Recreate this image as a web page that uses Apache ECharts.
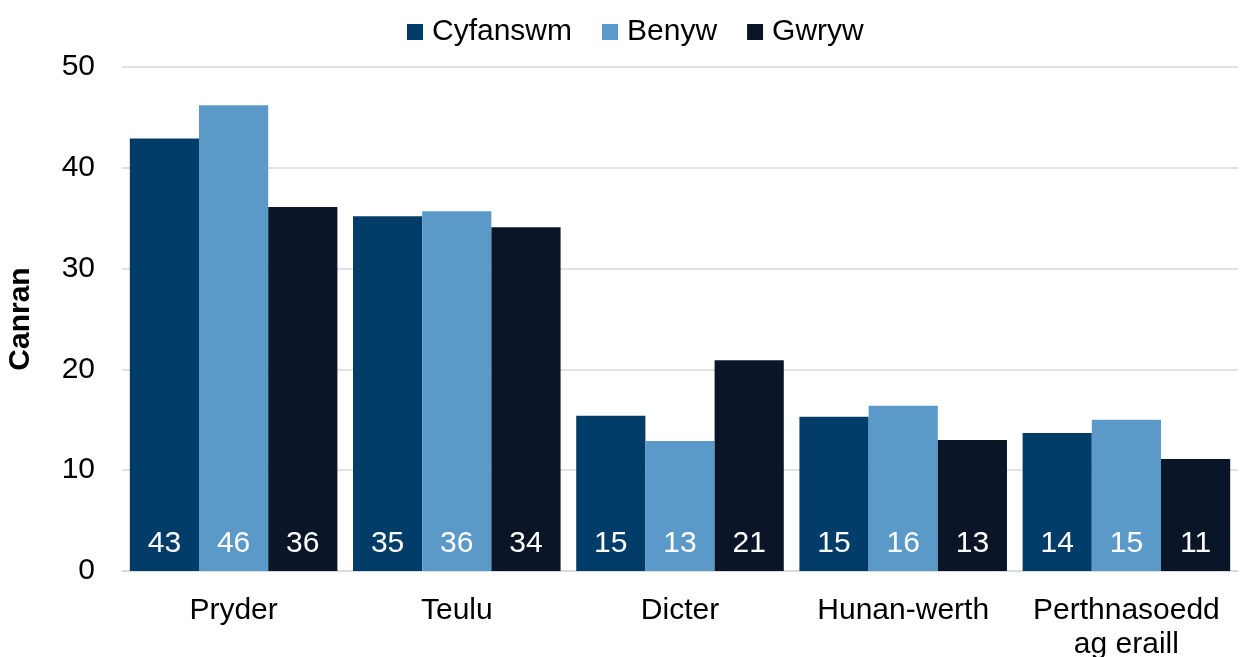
<!DOCTYPE html>
<html>
<head>
<meta charset="utf-8">
<script src="https://cdn.jsdelivr.net/npm/echarts@6/dist/echarts.min.js"></script>
<style>
  html, body { margin: 0; padding: 0; background: #fff; }
  #chart { width: 1240px; height: 657px; }
</style>
</head>
<body>
<div id="chart"></div>
<script>
// categories and series values (percent)
const categories = ['Pryder', 'Teulu', 'Dicter', 'Hunan-werth', 'Perthnasoedd\nag eraill']
const cyfanswm = [42.9, 35.2, 15.4, 15.3, 13.7]
const benyw = [46.2, 35.7, 12.9, 16.4, 15.0]
const gwryw = [36.1, 34.1, 20.9, 13.0, 11.1]
const yTicks = [0, 10, 20, 30, 40, 50]

const font = 'Liberation Sans, Arial, sans-serif'

const chart = echarts.init(document.getElementById('chart'))

// label inside the bar, near the bottom
function barSeries(name, data, color) {
  return {
    name: name,
    type: 'bar',
    data: data,
    barGap: '0%',
    barCategoryGap: '7%',
    itemStyle: { color: color },
    label: {
      show: true,
      position: 'insideBottom',
      distance: 12,
      color: '#fff',
      fontSize: 30,
      fontFamily: font,
      formatter: p => Math.round(p.value)
    }
  }
}

const option = {
  animation: false,
  legend: {
    top: 12,
    left: 402,
    itemWidth: 16,
    itemHeight: 16,
    itemGap: 30,
    icon: 'rect',
    textStyle: { fontSize: 30, fontFamily: font, color: '#000', padding: [0, 0, 0, 4] },
    data: ['Cyfanswm', 'Benyw', 'Gwryw']
  },
  grid: { left: 122, right: 2, top: 67, bottom: 86, outerBoundsMode: 'none' },
  xAxis: {
    type: 'category',
    data: categories,
    axisLine: { lineStyle: { color: '#d9d9d9', width: 1.5 } },
    axisTick: { show: false },
    axisLabel: {
      fontSize: 30,
      fontFamily: font,
      color: '#000',
      margin: 23,
      interval: 0,
      lineHeight: 34
    }
  },
  yAxis: {
    type: 'value',
    min: yTicks[0],
    max: yTicks[yTicks.length - 1],
    interval: 10,
    name: 'Canran',
    nameLocation: 'middle',
    nameGap: 86,
    nameTextStyle: { fontSize: 30, fontWeight: 'bold', fontFamily: font, color: '#000' },
    axisLine: { show: false },
    axisTick: { show: false },
    splitLine: { lineStyle: { color: '#d9d9d9', width: 1.5 } },
    axisLabel: { fontSize: 30, fontFamily: font, color: '#000', margin: 27 }
  },
  series: [
    barSeries('Cyfanswm', cyfanswm, '#023c69'),
    barSeries('Benyw', benyw, '#5b9ac8'),
    barSeries('Gwryw', gwryw, '#0a1628')
  ]
}

chart.setOption(option)
</script>
</body>
</html>
